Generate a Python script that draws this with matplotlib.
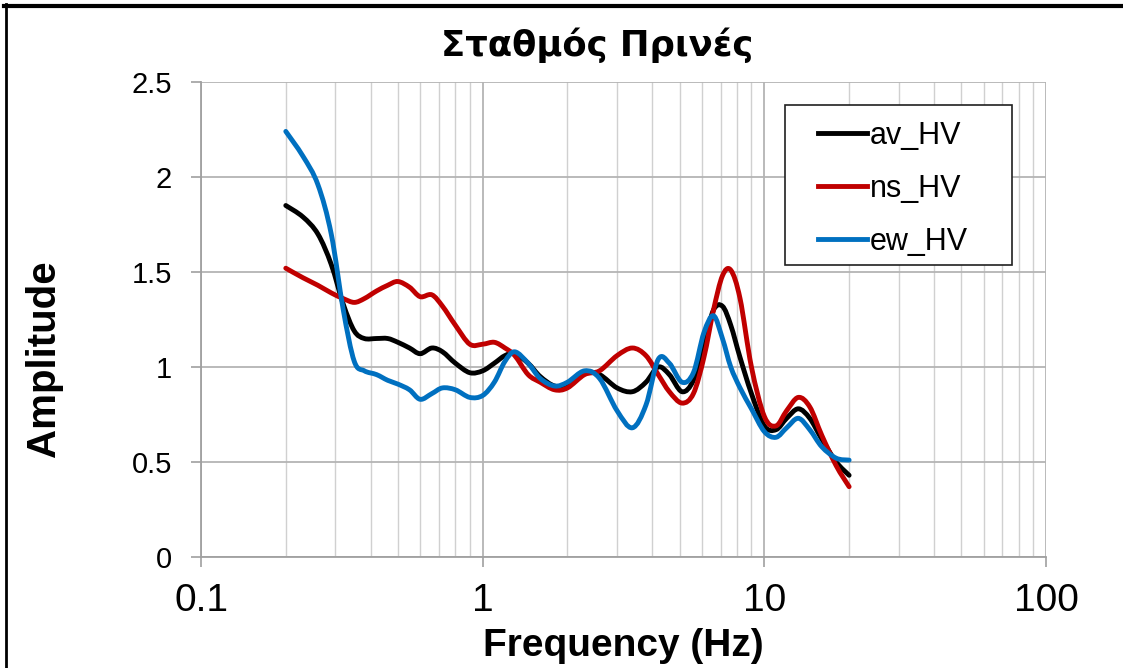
import numpy as np
import matplotlib
matplotlib.use('Agg')
import matplotlib.pyplot as plt
from matplotlib.lines import Line2D
from matplotlib.patches import PathPatch, Rectangle
from matplotlib.path import Path
from matplotlib.ticker import LogLocator, NullFormatter, FixedLocator

plt.rcParams['font.family'] = ['Liberation Sans', 'DejaVu Sans']

# ---- data ----
freq = [0.2, 0.23, 0.26, 0.29, 0.32, 0.35, 0.38, 0.42, 0.46, 0.5, 0.55, 0.6, 0.66,
        0.72, 0.8, 0.9, 1.0, 1.1, 1.2, 1.3, 1.45, 1.6, 1.8, 2.0, 2.3, 2.6, 3.0, 3.4,
        3.8, 4.2, 4.6, 5.1, 5.6, 6.1, 6.6, 7.1, 7.6, 8.2, 9.0, 10, 11, 12, 13.2,
        14.5, 16, 18, 20]

av_hv = [1.85, 1.79, 1.70, 1.54, 1.33, 1.19, 1.15, 1.15, 1.15, 1.13, 1.10, 1.07, 1.10,
         1.08, 1.02, 0.97, 0.98, 1.02, 1.06, 1.07, 1.02, 0.95, 0.90, 0.91, 0.97, 0.96,
         0.89, 0.87, 0.92, 1.00, 0.96, 0.87, 0.93, 1.12, 1.30, 1.32, 1.22, 1.05, 0.86,
         0.69, 0.67, 0.73, 0.78, 0.73, 0.62, 0.50, 0.43]

ns_hv = [1.52, 1.47, 1.43, 1.39, 1.36, 1.34, 1.36, 1.40, 1.43, 1.45, 1.42, 1.37, 1.38,
         1.32, 1.22, 1.12, 1.12, 1.13, 1.10, 1.06, 0.96, 0.92, 0.88, 0.89, 0.96, 0.98,
         1.06, 1.10, 1.06, 0.96, 0.87, 0.81, 0.86, 1.05, 1.30, 1.48, 1.51, 1.36, 1.00,
         0.74, 0.69, 0.77, 0.84, 0.79, 0.64, 0.48, 0.37]

ew_hv = [2.24, 2.11, 1.96, 1.70, 1.30, 1.03, 0.98, 0.96, 0.93, 0.91, 0.88, 0.83, 0.86,
         0.89, 0.88, 0.84, 0.85, 0.92, 1.03, 1.08, 1.02, 0.94, 0.90, 0.92, 0.98, 0.94,
         0.77, 0.68, 0.80, 1.04, 1.02, 0.92, 0.97, 1.18, 1.27, 1.15, 1.00, 0.89, 0.78,
         0.66, 0.63, 0.68, 0.73, 0.67, 0.58, 0.52, 0.51]

series = [('av_HV', av_hv, '#000000'),
          ('ns_HV', ns_hv, '#C00000'),
          ('ew_HV', ew_hv, '#0070C0')]

x_ticks = [0.1, 1, 10, 100]
x_labels = ['0.1', '1', '10', '100']
y_ticks = [0, 0.5, 1, 1.5, 2, 2.5]
y_labels = ['0', '0.5', '1', '1.5', '2', '2.5']


def smooth_path(x, y):
    # excel-like "smoothed line": cubic bezier segments through the points,
    # control points worked out in log(x) so the curve is smooth on screen
    lx = np.log10(np.asarray(x, float))
    yy = np.asarray(y, float)
    pts = np.column_stack([lx, yy])
    n = len(pts)
    verts = [pts[0]]
    codes = [Path.MOVETO]
    for i in range(n - 1):
        p0 = pts[i - 1] if i > 0 else pts[i]
        p1 = pts[i]
        p2 = pts[i + 1]
        p3 = pts[i + 2] if i + 2 < n else pts[i + 1]
        c1 = p1 + (p2 - p0) / 6.0
        c2 = p2 - (p3 - p1) / 6.0
        verts += [c1, c2, p2]
        codes += [Path.CURVE4] * 3
    verts = np.array(verts)
    verts[:, 0] = 10 ** verts[:, 0]
    return Path(verts, codes)


# ---- figure ----
fig = plt.figure(figsize=(11.23, 6.68), dpi=100)
ax = fig.add_axes([201 / 1123, 111 / 668, 845 / 1123, 475 / 668])

handles = []
for name, vals, col in series:
    ax.add_patch(PathPatch(smooth_path(freq, vals), facecolor='none', edgecolor=col,
                           lw=3.5, capstyle='round', joinstyle='round', zorder=3))
    handles.append(Line2D([], [], color=col, lw=3.5, label=name))

ax.set_xscale('log')
ax.set_xlim(0.1, 100)
ax.set_ylim(0, 2.5)

ax.xaxis.set_major_locator(FixedLocator(x_ticks))
ax.set_xticklabels(x_labels)
ax.xaxis.set_minor_locator(LogLocator(base=10, subs=np.arange(2, 10)))
ax.xaxis.set_minor_formatter(NullFormatter())
ax.set_yticks(y_ticks)
ax.set_yticklabels(y_labels)

ax.grid(True, which='major', color='#b4b4b4', lw=1.3, zorder=0)
ax.grid(True, which='minor', axis='x', color='#d0d0d0', lw=1.0, zorder=0)
ax.set_axisbelow(True)

for s in ['top', 'right']:
    ax.spines[s].set_visible(False)
for s in ['left', 'bottom']:
    ax.spines[s].set_color('#a0a0a0')
    ax.spines[s].set_linewidth(1.3)

ax.tick_params(axis='x', which='major', length=7, color='#a0a0a0', width=1.2,
               labelsize=28, pad=12)
ax.tick_params(axis='x', which='minor', length=0)
ax.tick_params(axis='y', length=7, color='#a0a0a0', width=1.2, labelsize=21, pad=14)

ax.set_xlabel('Frequency (Hz)', fontsize=28, fontweight='bold', labelpad=6)
fig.text(44 / 1123, (668 - 359) / 668, 'Amplitude', rotation=90, fontsize=29,
         fontweight='bold', ha='center', va='center')
fig.text(597 / 1123, (668 - 45) / 668, 'Σταθμός Πρινές', fontsize=25.5,
         fontweight='bold', ha='center', va='center', family='DejaVu Sans')

# legend box drawn separately (wide side margins like the original)
box = Rectangle((785 / 1123, (668 - 265) / 668), 227 / 1123, 160 / 668,
                transform=fig.transFigure, facecolor='white', edgecolor='#202020',
                lw=1.2, zorder=4)
fig.add_artist(box)
leg = fig.legend(handles=handles, loc='upper left',
                 bbox_to_anchor=(818 / 1123, (668 - 121) / 668),
                 fontsize=22, frameon=False, handlelength=1.6, handletextpad=0.1,
                 labelspacing=0.75, borderpad=0, borderaxespad=0)
leg.set_zorder(5)

# outer frame (top and left edges visible)
fig.add_artist(Line2D([0.005, 0.005], [0, 0.994], transform=fig.transFigure,
                      color='black', lw=2))
fig.add_artist(Line2D([0.004, 1], [0.991, 0.991], transform=fig.transFigure,
                      color='black', lw=3))

fig.savefig('out.png', dpi=100)
